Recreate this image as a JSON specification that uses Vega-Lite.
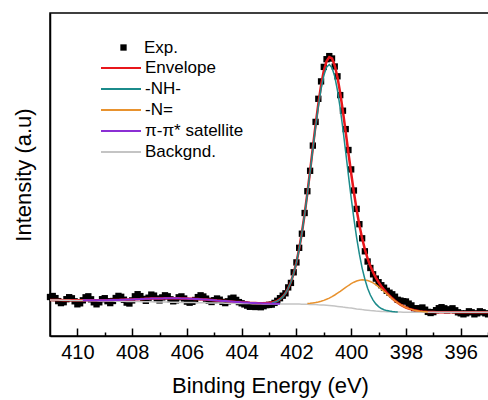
{
"$schema":"https://vega.github.io/schema/vega-lite/v6.json",
"width":440,"height":323,
"autosize":"none",
"padding":{"left":50,"top":13,"right":0,"bottom":64},
"background":"white",
"config":{
 "font":"Liberation Sans",
 "view":{"stroke":"black","strokeWidth":1.5},
 "axis":{"domainColor":"black","domainWidth":1.5,"tickColor":"black","tickWidth":1.5,"labelColor":"black","titleColor":"black","grid":false,"labelFont":"Liberation Sans","titleFont":"Liberation Sans","titleFontWeight":"normal"}
},
"data":{"values":[
{"e":411.0,"y":39.0,"env":36.0,"bg":36.0},
{"e":410.9,"y":40.0,"env":36.0,"bg":36.0},
{"e":410.8,"y":37.9,"env":35.9,"bg":35.9},
{"e":410.7,"y":34.9,"env":35.9,"bg":35.9},
{"e":410.6,"y":32.9,"env":35.9,"bg":35.8},
{"e":410.5,"y":33.8,"env":35.8,"bg":35.8},
{"e":410.4,"y":36.8,"env":35.8,"bg":35.7},
{"e":410.3,"y":38.8,"env":35.8,"bg":35.7},
{"e":410.2,"y":37.7,"env":35.7,"bg":35.6},
{"e":410.1,"y":34.7,"env":35.7,"bg":35.6},
{"e":410.0,"y":31.7,"env":35.7,"bg":35.5},
{"e":409.9,"y":32.7,"env":35.7,"bg":35.5},
{"e":409.8,"y":35.7,"env":35.7,"bg":35.4,"pi":35.7},
{"e":409.7,"y":38.7,"env":35.7,"bg":35.4,"pi":35.7},
{"e":409.6,"y":39.7,"env":35.7,"bg":35.3,"pi":35.7},
{"e":409.5,"y":36.7,"env":35.7,"bg":35.3,"pi":35.7},
{"e":409.4,"y":33.7,"env":35.7,"bg":35.2,"pi":35.7},
{"e":409.3,"y":31.7,"env":35.7,"bg":35.2,"pi":35.7},
{"e":409.2,"y":33.7,"env":35.7,"bg":35.1,"pi":35.7},
{"e":409.1,"y":36.8,"env":35.8,"bg":35.1,"pi":35.8},
{"e":409.0,"y":37.8,"env":35.8,"bg":35.0,"pi":35.8},
{"e":408.9,"y":34.8,"env":35.8,"bg":35.0,"pi":35.8},
{"e":408.8,"y":32.9,"env":35.9,"bg":34.9,"pi":35.9},
{"e":408.7,"y":35.0,"env":36.0,"bg":34.9,"pi":36.0},
{"e":408.6,"y":38.0,"env":36.0,"bg":34.8,"pi":36.0},
{"e":408.5,"y":40.1,"env":36.1,"bg":34.8,"pi":36.1},
{"e":408.4,"y":39.2,"env":36.2,"bg":34.7,"pi":36.2},
{"e":408.3,"y":36.3,"env":36.3,"bg":34.7,"pi":36.3},
{"e":408.2,"y":33.4,"env":36.4,"bg":34.6,"pi":36.4},
{"e":408.1,"y":32.5,"env":36.5,"bg":34.6,"pi":36.5},
{"e":408.0,"y":35.6,"env":36.6,"bg":34.5,"pi":36.6},
{"e":407.9,"y":39.7,"env":36.7,"bg":34.5,"pi":36.7},
{"e":407.8,"y":41.8,"env":36.8,"bg":34.4,"pi":36.8},
{"e":407.7,"y":39.9,"env":36.9,"bg":34.4,"pi":36.9},
{"e":407.6,"y":37.1,"env":37.1,"bg":34.3,"pi":37.1},
{"e":407.5,"y":35.2,"env":37.2,"bg":34.3,"pi":37.2},
{"e":407.4,"y":38.3,"env":37.3,"bg":34.2,"pi":37.3},
{"e":407.3,"y":41.4,"env":37.4,"bg":34.2,"pi":37.4},
{"e":407.2,"y":40.4,"env":37.4,"bg":34.1,"pi":37.4},
{"e":407.1,"y":37.5,"env":37.5,"bg":34.1,"pi":37.5},
{"e":407.0,"y":35.6,"env":37.6,"bg":34.0,"pi":37.6},
{"e":406.9,"y":38.6,"env":37.6,"bg":34.0,"pi":37.6},
{"e":406.8,"y":40.7,"env":37.7,"bg":33.9,"pi":37.7},
{"e":406.7,"y":39.7,"env":37.7,"bg":33.9,"pi":37.7},
{"e":406.6,"y":36.7,"env":37.7,"bg":33.8,"pi":37.7},
{"e":406.5,"y":34.7,"env":37.7,"bg":33.8,"pi":37.7},
{"e":406.4,"y":35.7,"env":37.7,"bg":33.7,"pi":37.7},
{"e":406.3,"y":38.7,"env":37.7,"bg":33.7,"pi":37.7},
{"e":406.2,"y":39.6,"env":37.6,"bg":33.6,"pi":37.6},
{"e":406.1,"y":37.5,"env":37.5,"bg":33.6,"pi":37.5},
{"e":406.0,"y":34.4,"env":37.4,"bg":33.5,"pi":37.4},
{"e":405.9,"y":33.3,"env":37.3,"bg":33.5,"pi":37.3},
{"e":405.8,"y":34.2,"env":37.2,"bg":33.4,"pi":37.2},
{"e":405.7,"y":36.0,"env":37.0,"bg":33.4,"pi":37.0},
{"e":405.6,"y":38.9,"env":36.9,"bg":33.3,"pi":36.9},
{"e":405.5,"y":40.7,"env":36.7,"bg":33.3,"pi":36.7},
{"e":405.4,"y":39.5,"env":36.5,"bg":33.2,"pi":36.5},
{"e":405.3,"y":37.4,"env":36.4,"bg":33.2,"pi":36.4},
{"e":405.2,"y":35.2,"env":36.2,"bg":33.1,"pi":36.2},
{"e":405.1,"y":34.0,"env":36.0,"bg":33.1,"pi":36.0},
{"e":405.0,"y":35.8,"env":35.8,"bg":33.0,"pi":35.8},
{"e":404.9,"y":37.5,"env":35.5,"bg":33.0,"pi":35.5},
{"e":404.8,"y":36.3,"env":35.3,"bg":32.9,"pi":35.3},
{"e":404.7,"y":34.1,"env":35.1,"bg":32.9,"pi":35.1},
{"e":404.6,"y":32.9,"env":34.9,"bg":32.8,"pi":34.9},
{"e":404.5,"y":34.7,"env":34.7,"bg":32.8,"pi":34.7},
{"e":404.4,"y":37.5,"env":34.5,"bg":32.7,"pi":34.5},
{"e":404.3,"y":38.3,"env":34.3,"bg":32.7,"pi":34.3},
{"e":404.2,"y":36.1,"env":34.1,"bg":32.6,"pi":34.1},
{"e":404.1,"y":33.9,"env":33.9,"bg":32.6,"pi":33.9},
{"e":404.0,"y":32.7,"env":33.7,"bg":32.5,"pi":33.7},
{"e":403.9,"y":31.6,"env":33.6,"bg":32.5,"pi":33.6},
{"e":403.8,"y":30.4,"env":33.4,"bg":32.4,"pi":33.4},
{"e":403.7,"y":29.2,"env":33.2,"bg":32.4,"pi":33.2},
{"e":403.6,"y":30.1,"env":33.1,"bg":32.3,"pi":33.1},
{"e":403.5,"y":29.0,"env":33.0,"bg":32.3,"pi":33.0},
{"e":403.4,"y":29.8,"env":32.8,"bg":32.2,"pi":32.8},
{"e":403.3,"y":28.8,"env":32.8,"bg":32.2,"pi":32.7},
{"e":403.2,"y":29.8,"env":32.8,"bg":32.1,"pi":32.6},
{"e":403.1,"y":30.9,"env":32.9,"bg":32.1,"pi":32.5},
{"e":403.0,"y":31.1,"env":33.1,"bg":32.0,"pi":32.4},
{"e":402.9,"y":31.4,"env":33.4,"bg":32.0,"nh":33.1,"pi":32.3},
{"e":402.8,"y":33.1,"env":34.1,"bg":32.0,"nh":33.8,"pi":32.3},
{"e":402.7,"y":35.2,"env":35.2,"bg":32.0,"nh":34.9,"pi":32.2},
{"e":402.6,"y":37.8,"env":36.8,"bg":32.0,"nh":36.6,"pi":32.2},
{"e":402.5,"y":40.3,"env":39.3,"bg":32.0,"nh":39.1},
{"e":402.4,"y":42.7,"env":42.7,"bg":32.0,"nh":42.6},
{"e":402.3,"y":48.6,"env":47.6,"bg":32.0,"nh":47.5},
{"e":402.2,"y":53.1,"env":54.1,"bg":31.9,"nh":53.9},
{"e":402.1,"y":63.7,"env":62.7,"bg":31.9,"nh":62.5},
{"e":402.0,"y":73.6,"env":73.6,"bg":31.9,"nh":73.4},
{"e":401.9,"y":88.2,"env":87.2,"bg":31.9,"nh":86.9},
{"e":401.8,"y":102.3,"env":103.3,"bg":31.8,"nh":102.9},
{"e":401.7,"y":123.0,"env":122.0,"bg":31.8,"nh":121.5},
{"e":401.6,"y":144.8,"env":142.8,"bg":31.7,"nh":142.0,"n":32.5},
{"e":401.5,"y":165.2,"env":165.2,"bg":31.6,"nh":164.1,"n":32.7},
{"e":401.4,"y":190.4,"env":188.4,"bg":31.5,"nh":186.8,"n":33.1},
{"e":401.3,"y":214.1,"env":211.1,"bg":31.4,"nh":209.0,"n":33.5},
{"e":401.2,"y":237.2,"env":232.2,"bg":31.2,"nh":229.4,"n":34.0},
{"e":401.1,"y":254.6,"env":250.6,"bg":31.1,"nh":247.0,"n":34.7},
{"e":401.0,"y":269.1,"env":265.1,"bg":30.9,"nh":260.4,"n":35.6},
{"e":400.9,"y":276.8,"env":274.8,"bg":30.7,"nh":268.8,"n":36.7},
{"e":400.8,"y":279.9,"env":278.9,"bg":30.5,"nh":271.5,"n":37.9},
{"e":400.7,"y":277.5,"env":277.5,"bg":30.2,"nh":268.3,"n":39.4},
{"e":400.6,"y":269.5,"env":270.5,"bg":29.9,"nh":259.4,"n":41.0},
{"e":400.5,"y":259.7,"env":258.7,"bg":29.6,"nh":245.5,"n":42.8},
{"e":400.4,"y":240.9,"env":242.9,"bg":29.3,"nh":227.5,"n":44.7},
{"e":400.3,"y":225.3,"env":224.3,"bg":28.9,"nh":206.5,"n":46.7},
{"e":400.2,"y":206.9,"env":203.9,"bg":28.6,"nh":183.9,"n":48.6},
{"e":400.1,"y":186.0,"env":183.0,"bg":28.2,"nh":160.7,"n":50.5},
{"e":400.0,"y":166.6,"env":162.6,"bg":27.9,"nh":138.2,"n":52.3},
{"e":399.9,"y":145.5,"env":143.5,"bg":27.5,"nh":117.2,"n":53.8},
{"e":399.8,"y":127.1,"env":126.1,"bg":27.1,"nh":98.2,"n":55.0},
{"e":399.7,"y":111.8,"env":110.8,"bg":26.8,"nh":81.8,"n":55.8},
{"e":399.6,"y":97.7,"env":97.7,"bg":26.4,"nh":67.9,"n":56.2},
{"e":399.5,"y":84.7,"env":86.7,"bg":26.1,"nh":56.7,"n":56.1},
{"e":399.4,"y":74.5,"env":77.5,"bg":25.8,"nh":47.8,"n":55.5},
{"e":399.3,"y":68.0,"env":70.0,"bg":25.5,"nh":41.0,"n":54.5},
{"e":399.2,"y":61.7,"env":63.7,"bg":25.3,"nh":35.9,"n":53.1},
{"e":399.1,"y":57.4,"env":58.4,"bg":25.0,"nh":32.1,"n":51.3},
{"e":399.0,"y":53.8,"env":53.8,"bg":24.8,"nh":29.4,"n":49.2},
{"e":398.9,"y":50.8,"env":49.8,"bg":24.6,"nh":27.5,"n":46.9},
{"e":398.8,"y":48.3,"env":46.3,"bg":24.5,"nh":26.3,"n":44.5},
{"e":398.7,"y":45.2,"env":43.2,"bg":24.3,"nh":25.4,"n":42.1},
{"e":398.6,"y":43.3,"env":40.3,"bg":24.2,"nh":24.9,"n":39.6},
{"e":398.5,"y":41.7,"env":37.7,"bg":24.1,"nh":24.5,"n":37.3},
{"e":398.4,"y":39.3,"env":35.3,"bg":24.0,"nh":24.2,"n":35.1},
{"e":398.3,"y":36.2,"env":33.2,"bg":23.9,"nh":24.0,"n":33.1},
{"e":398.2,"y":35.4,"env":31.4,"bg":23.9,"n":31.4},
{"e":398.1,"y":34.8,"env":29.8,"bg":23.8,"n":29.8},
{"e":398.0,"y":34.5,"env":28.5,"bg":23.8,"n":28.5},
{"e":397.9,"y":32.4,"env":27.4,"bg":23.8,"n":27.4},
{"e":397.8,"y":30.6,"env":26.6,"bg":23.8,"n":26.6},
{"e":397.7,"y":27.8,"env":25.8,"bg":23.7,"n":25.8},
{"e":397.6,"y":26.3,"env":25.3,"bg":23.7,"n":25.3},
{"e":397.5,"y":27.8,"env":24.8,"bg":23.7,"n":24.8},
{"e":397.4,"y":28.5,"env":24.5,"bg":23.7,"n":24.5},
{"e":397.3,"y":26.3,"env":24.3,"bg":23.7,"n":24.3},
{"e":397.2,"y":24.1,"env":24.1,"bg":23.7,"n":24.1},
{"e":397.1,"y":23.0,"env":24.0,"bg":23.7},
{"e":397.0,"y":23.9,"env":23.9,"bg":23.7},
{"e":396.9,"y":25.8,"env":23.8,"bg":23.7},
{"e":396.8,"y":27.8,"env":23.8,"bg":23.7},
{"e":396.7,"y":28.8,"env":23.8,"bg":23.7},
{"e":396.6,"y":27.7,"env":23.7,"bg":23.7},
{"e":396.5,"y":25.7,"env":23.7,"bg":23.7},
{"e":396.4,"y":26.7,"env":23.7,"bg":23.7},
{"e":396.3,"y":27.7,"env":23.7,"bg":23.7},
{"e":396.2,"y":25.7,"env":23.7,"bg":23.7},
{"e":396.1,"y":23.7,"env":23.7,"bg":23.7},
{"e":396.0,"y":22.7,"env":23.7,"bg":23.7},
{"e":395.9,"y":21.7,"env":23.7,"bg":23.7},
{"e":395.8,"y":22.7,"env":23.7,"bg":23.7},
{"e":395.7,"y":24.7,"env":23.7,"bg":23.7},
{"e":395.6,"y":23.7,"env":23.7,"bg":23.7},
{"e":395.5,"y":21.7,"env":23.7,"bg":23.7},
{"e":395.4,"y":22.7,"env":23.7,"bg":23.7},
{"e":395.3,"y":24.7,"env":23.7,"bg":23.7},
{"e":395.2,"y":23.7,"env":23.7,"bg":23.7},
{"e":395.1,"y":22.7,"env":23.7,"bg":23.7},
{"e":395.0,"y":21.7,"env":23.7,"bg":23.7}
]},
"encoding":{
 "x":{"field":"e","type":"quantitative",
  "scale":{"domain":[394.93,411],"reverse":true,"nice":false,"zero":false},
  "axis":{"title":"Binding Energy (eV)","values":[395,396,397,398,399,400,401,402,403,404,405,406,407,408,409,410],
   "labelExpr":"datum.value % 2 === 0 ? datum.label : ''",
   "tickSize":{"condition":{"test":"datum.value % 2 === 0","value":-8},"value":-4},
   "labelOverlap":false,"labelFlush":false,"labelFontSize":20,"labelPadding":14,"titleFontSize":22,"titlePadding":9}}
},
"layer":[
 {"mark":{"type":"point","shape":"square","filled":true,"size":40,"opacity":1,"color":"black"},
  "encoding":{
   "y":{"field":"y","type":"quantitative","scale":{"domain":[0,323],"nice":false,"zero":false},
    "axis":{"title":"Intensity (a.u)","ticks":false,"labels":false,"titleFontSize":22,"titlePadding":15}},
   "shape":{"datum":"Exp.","scale":{"domain":["Exp."],"range":["square"]},
    "legend":{"orient":"none","legendX":65,"legendY":26,"title":null,"labelFontSize":17,"labelFont":"Liberation Sans","labelColor":"black","symbolSize":40,"symbolFillColor":"black","symbolStrokeWidth":0,"labelOffset":12,"padding":0}}}},
 {"mark":{"type":"line","strokeWidth":2.5},
  "encoding":{"y":{"field":"env","type":"quantitative"},
   "color":{"datum":"Envelope","scale":{"domain":["Envelope","-NH-","-N=","π-π* satellite","Backgnd."],"range":["#e8161b","#1b8b8b","#e8922e","#8b2fd4","#c4c4c4"]},
    "legend":{"orient":"none","legendX":60,"legendY":44,"title":null,"symbolType":"M-2,0H2","symbolSize":400,"symbolStrokeWidth":2,"labelFontSize":17,"labelFont":"Liberation Sans","labelColor":"black","labelOffset":13,"rowPadding":2,"padding":0}}}},
 {"mark":{"type":"line","strokeWidth":1.5},
  "encoding":{"y":{"field":"bg","type":"quantitative"},"color":{"datum":"Backgnd."}}},
 {"mark":{"type":"line","strokeWidth":1.5},
  "encoding":{"y":{"field":"n","type":"quantitative"},"color":{"datum":"-N="}}},
 {"mark":{"type":"line","strokeWidth":1.5},
  "encoding":{"y":{"field":"nh","type":"quantitative"},"color":{"datum":"-NH-"}}},
 {"mark":{"type":"line","strokeWidth":2},
  "encoding":{"y":{"field":"pi","type":"quantitative"},"color":{"datum":"π-π* satellite"}}}
]
}
